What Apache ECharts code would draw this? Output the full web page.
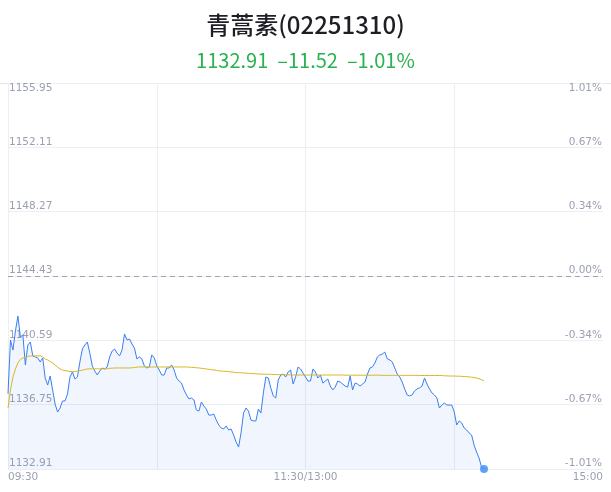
<!DOCTYPE html>
<html>
<head>
<meta charset="utf-8">
<script src="https://cdn.jsdelivr.net/npm/echarts@6/dist/echarts.min.js"></script>
<style>
  html, body { margin: 0; padding: 0; background: #fff; }
  #chart { width: 611px; height: 492px; }
</style>
</head>
<body>
<div id="chart"></div>
<script>
/* ----------------------------  data  ---------------------------- */
const stockName = '青蒿素(02251310)';
const prevClose = 1144.43;

// minute prices 09:30 -> 14:12
const price = [
  1137.40, 1140.61, 1140.01, 1141.15, 1142.04, 1140.79, 1140.91, 1139.12, 1140.31, 1140.49,
  1139.66, 1139.60, 1139.54, 1139.30, 1139.54, 1138.34, 1137.92, 1138.46, 1137.63, 1136.79,
  1136.31, 1136.55, 1136.97, 1136.97, 1137.39, 1138.40, 1138.70, 1138.28, 1138.40, 1139.30,
  1140.07, 1140.31, 1140.49, 1139.83, 1139.06, 1138.76, 1138.52, 1138.76, 1138.94, 1138.88,
  1139.00, 1139.60, 1139.95, 1140.07, 1139.83, 1139.66, 1140.01, 1140.97, 1140.61, 1140.67,
  1140.37, 1140.13, 1139.48, 1139.60, 1139.48, 1139.06, 1138.94, 1139.00, 1139.72, 1139.54,
  1139.06, 1138.82, 1138.52, 1138.52, 1138.94, 1138.94, 1139.12, 1138.82, 1138.34, 1138.16,
  1138.04, 1137.63, 1137.33, 1137.09, 1137.15, 1137.03, 1136.43, 1136.37, 1136.91, 1136.67,
  1136.49, 1136.13, 1136.13, 1136.19, 1135.83, 1135.54, 1135.36, 1135.30, 1135.48, 1135.24,
  1135.30, 1134.94, 1134.52, 1134.22, 1135.06, 1136.25, 1136.55, 1136.37, 1135.83, 1135.78,
  1135.78, 1136.49, 1136.25, 1137.45, 1138.40, 1138.34, 1137.75, 1137.27, 1137.15, 1138.22,
  1138.52, 1138.58, 1138.40, 1138.70, 1138.82, 1137.98, 1138.40, 1139.00, 1138.88, 1138.64,
  1138.40, 1138.16, 1138.16, 1138.88, 1138.70, 1138.34, 1138.52, 1138.04, 1138.16, 1138.28,
  1137.86, 1137.63, 1137.80, 1138.16, 1138.10, 1137.98, 1137.86, 1137.80, 1138.46, 1137.63,
  1138.04, 1137.98, 1137.86, 1137.98, 1138.10, 1138.58, 1138.94, 1139.00, 1139.24, 1139.60,
  1139.72, 1139.77, 1139.89, 1139.48, 1139.42, 1139.30, 1138.94, 1138.58, 1138.40, 1138.10,
  1137.69, 1137.33, 1137.27, 1137.33, 1137.57, 1137.69, 1137.75, 1137.86, 1138.34, 1137.98,
  1137.69, 1137.45, 1137.33, 1137.15, 1136.55, 1136.73, 1136.85, 1136.73, 1136.73, 1136.73,
  1136.31, 1135.54, 1135.78, 1135.66, 1135.36, 1135.24, 1135.06, 1134.94, 1134.34, 1133.92,
  1133.57, 1133.03, 1132.91,
];

// average price line
const avgPrice = [
  1136.55, 1137.63, 1138.40, 1138.88, 1139.24, 1139.45, 1139.54, 1139.60, 1139.63, 1139.66,
  1139.66, 1139.66, 1139.66, 1139.66, 1139.60, 1139.48, 1139.42, 1139.33, 1139.24, 1139.12,
  1139.00, 1138.88, 1138.82, 1138.78, 1138.76, 1138.73, 1138.72, 1138.73, 1138.76, 1138.78,
  1138.81, 1138.85, 1138.88, 1138.89, 1138.89, 1138.89, 1138.89, 1138.89, 1138.89, 1138.89,
  1138.89, 1138.92, 1138.93, 1138.94, 1138.94, 1138.94, 1138.94, 1138.94, 1138.94, 1138.94,
  1138.95, 1138.97, 1138.99, 1139.00, 1139.00, 1139.00, 1139.00, 1139.00, 1139.00, 1139.00,
  1139.00, 1139.00, 1139.00, 1139.00, 1139.00, 1139.00, 1139.00, 1139.00, 1139.00, 1139.00,
  1139.00, 1139.00, 1139.00, 1138.99, 1138.98, 1138.97, 1138.95, 1138.94, 1138.92, 1138.90,
  1138.88, 1138.86, 1138.84, 1138.82, 1138.80, 1138.77, 1138.76, 1138.75, 1138.74, 1138.72,
  1138.70, 1138.69, 1138.67, 1138.66, 1138.65, 1138.64, 1138.63, 1138.62, 1138.61, 1138.60,
  1138.59, 1138.58, 1138.58, 1138.57, 1138.57, 1138.56, 1138.56, 1138.55, 1138.55, 1138.54,
  1138.54, 1138.54, 1138.53, 1138.53, 1138.53, 1138.52, 1138.52, 1138.52, 1138.52, 1138.52,
  1138.52, 1138.52, 1138.52, 1138.52, 1138.52, 1138.52, 1138.52, 1138.52, 1138.52, 1138.52,
  1138.52, 1138.52, 1138.52, 1138.52, 1138.52, 1138.52, 1138.51, 1138.51, 1138.51, 1138.51,
  1138.51, 1138.51, 1138.51, 1138.51, 1138.51, 1138.51, 1138.51, 1138.51, 1138.51, 1138.51,
  1138.51, 1138.50, 1138.50, 1138.50, 1138.50, 1138.50, 1138.50, 1138.50, 1138.50, 1138.50,
  1138.50, 1138.50, 1138.50, 1138.50, 1138.50, 1138.50, 1138.49, 1138.49, 1138.49, 1138.49,
  1138.49, 1138.49, 1138.49, 1138.49, 1138.49, 1138.49, 1138.47, 1138.47, 1138.46, 1138.46,
  1138.46, 1138.45, 1138.45, 1138.44, 1138.43, 1138.42, 1138.41, 1138.39, 1138.37, 1138.34,
  1138.30, 1138.24, 1138.17,
];

// x ticks
const tickIndex = [0, 120, 240];
const tickLabels = ['09:30', '11:30/13:00', '15:00'];

/* ----------------------------  time categories  ---------------------------- */
const pad = (n) => String(n).padStart(2, '0');
const times = [];
for (let m = 9 * 60 + 30; m <= 11 * 60 + 30; m++) times.push(pad(Math.floor(m / 60)) + ':' + pad(m % 60));
for (let m = 13 * 60 + 1; m <= 15 * 60; m++) times.push(pad(Math.floor(m / 60)) + ':' + pad(m % 60));

/* ----------------------------  helpers  ---------------------------- */
// values go on the axis as hundredths off the previous close, so ticks stay integers
const toAxis = (p) => Math.round((p - prevClose) * 100);
const range = 1152;
const step = 384;

const last = price[price.length - 1];
const chg = last - prevClose;
const minus = (n) => (n < 0 ? '–' : '') + Math.abs(n).toFixed(2);
const subText = `${last.toFixed(2)}  ${minus(chg)}  ${minus(chg / prevClose * 100)}%`;

const labelColor = '#9ba1b2';
const gridColor = '#eceef3';
const leftFmt = (v) => (v / 100 + prevClose).toFixed(2);
const rightFmt = (v) => (v / prevClose).toFixed(2) + '%';

function valueAxis(position, formatter, onlyMax) {
  return {
    type: 'value',
    position,
    min: -range,
    max: range,
    interval: step,
    axisLine: { show: false },
    axisTick: { show: false },
    splitLine: { show: !onlyMax, lineStyle: { color: gridColor, width: 1 } },
    axisLabel: {
      inside: true,
      margin: 1,
      color: labelColor,
      fontSize: 10.5,
      fontFamily: 'DejaVu Sans',
      verticalAlign: onlyMax ? 'top' : 'bottom',
      showMaxLabel: onlyMax,
      formatter: onlyMax ? (v) => (v === range ? formatter(v) : '') : formatter,
    },
  };
}

/* ----------------------------  chart  ---------------------------- */
const chart = echarts.init(document.getElementById('chart'));

chart.setOption({
  animation: false,
  title: [
    {
      text: stockName,
      left: 'center',
      top: 8,
      textStyle: { fontSize: 24, fontWeight: 500, color: '#1e1f24', fontFamily: 'Noto Sans CJK SC' },
    },
    {
      text: subText,
      left: 'center',
      top: 45,
      textStyle: { fontSize: 20, fontWeight: 'normal', color: '#2ab24e', fontFamily: 'Noto Sans CJK SC' },
    },
  ],
  graphic: [
    { type: 'line', shape: { x1: 0, y1: 83.5, x2: 611, y2: 83.5 }, style: { stroke: '#e4e6ec', lineWidth: 1 } },
  ],
  grid: { left: 8, right: 8, top: 83, bottom: 23 },
  xAxis: {
    type: 'category',
    data: times,
    boundaryGap: false,
    axisLine: { show: false },
    axisTick: { show: false },
    axisLabel: {
      interval: (i) => tickIndex.includes(i),
      formatter: (v, i) => tickLabels[tickIndex.indexOf(i)] || '',
      color: labelColor,
      fontSize: 10.5,
      fontFamily: 'DejaVu Sans',
      margin: 3,
      alignMinLabel: 'left',
      alignMaxLabel: 'right',
    },
    splitLine: {
      show: true,
      interval: (i) => i % 60 === 0 && i < 240,
      lineStyle: { color: gridColor, width: 1 },
    },
  },
  yAxis: [
    valueAxis('left', leftFmt, false),
    valueAxis('right', rightFmt, false),
    valueAxis('left', leftFmt, true),
    valueAxis('right', rightFmt, true),
  ],
  series: [
    {
      name: 'price',
      type: 'line',
      data: price.map(toAxis),
      showSymbol: false,
      lineStyle: { color: '#3a7ff1', width: 1 },
      areaStyle: { color: 'rgba(58,127,241,0.11)', origin: 'start' },
      markLine: {
        silent: true,
        symbol: 'none',
        label: { show: false },
        lineStyle: { type: [5, 4], color: '#9ea4b6', width: 1 },
        data: [{ yAxis: 0 }],
      },
      z: 2,
    },
    {
      name: 'avg',
      type: 'line',
      data: avgPrice.map(toAxis),
      showSymbol: false,
      lineStyle: { color: '#d7b625', width: 1 },
      z: 3,
    },
    {
      name: 'last',
      type: 'scatter',
      data: [[price.length - 1, toAxis(last)]],
      symbolSize: 8,
      itemStyle: { color: '#3a8bf7' },
      z: 4,
    },
  ],
});
</script>
</body>
</html>
